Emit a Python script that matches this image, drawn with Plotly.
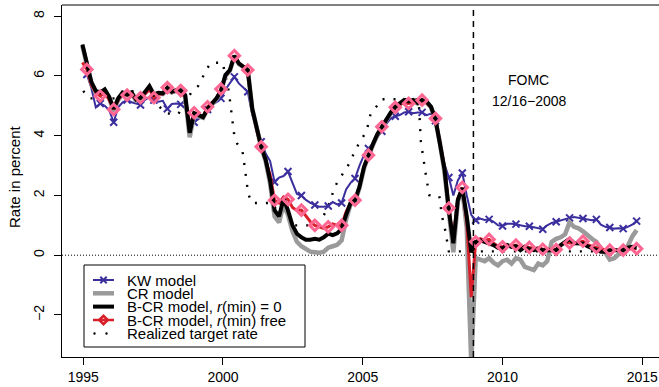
import numpy as np
import plotly.graph_objects as go

# ---------------- data ----------------
# model-implied rates on a regular grid (every 0.16 yr starting 1994.97)
kw_model = [6.2, 6.05, 5.6, 4.95, 5.08, 5.0, 4.85, 4.45, 4.95, 5.12,
            5.19, 5.12, 5.08, 5.03, 5.2, 5.3, 5.19, 5.14, 5.17, 4.9,
            5.06, 5.08, 5.05, 4.92, 4.35, 4.45, 4.58, 4.67, 4.88, 5.03,
            5.12, 5.25, 5.55, 5.78, 5.97, 5.75, 5.6, 5.47, 4.7, 4.25,
            3.8, 3.4, 3.15, 2.45, 2.6, 2.65, 2.8, 2.4, 2.05, 2.0,
            1.85, 1.75, 1.68, 1.62, 1.62, 1.65, 1.78, 1.7, 1.75, 2.2,
            2.42, 2.57, 3.0, 3.35, 3.57, 3.74, 3.95, 4.15, 4.4, 4.58,
            4.65, 4.69, 4.78, 4.8, 4.75, 4.78, 4.78, 4.69, 4.74, 4.5,
            3.8, 3.05, 2.6, 2.0, 2.5, 2.75, 2.0, 1.35, 1.17, 1.23,
            1.18, 1.2, 1.12, 1.0, 0.98, 1.05, 1.05, 1.04, 1.0, 0.97,
            0.97, 0.93, 0.9, 0.87, 1.0, 1.08, 1.12, 1.17, 1.22, 1.25,
            1.28, 1.25, 1.23, 1.18, 1.17, 1.2, 1.02, 0.95, 0.93, 0.89,
            0.9, 0.89, 0.95, 1.02, 1.14]

cr_model = [7.0, 6.3, 5.75, 5.45, 5.4, 5.5, 5.25, 4.82, 5.2, 5.4,
            5.35, 5.4, 5.18, 5.25, 5.4, 5.6, 5.35, 5.4, 5.4, 5.56,
            5.45, 5.5, 5.5, 5.3, 3.95, 4.7, 4.65, 4.6, 4.88, 5.05,
            5.22, 5.48, 6.0, 6.18, 6.65, 6.4, 6.3, 6.2, 4.9, 4.2,
            3.62, 3.15, 2.4, 1.3, 1.1, 1.7, 1.35, 0.8, 0.45, 0.3,
            0.2, 0.12, 0.1, 0.08, 0.12, 0.25, 0.3, 0.35, 0.5, 1.2,
            1.7, 1.8, 2.25, 2.9, 3.33, 3.7, 4.03, 4.28, 4.55, 4.75,
            4.95, 5.05, 5.15, 5.12, 5.18, 5.08, 5.18, 5.12, 4.95, 4.5,
            3.75, 2.8, 1.3, 0.1, 1.8, 2.2, 0.9, -3.6, -0.1, -0.17,
            -0.2, -0.1, -0.25, -0.34, -0.2, -0.15, -0.28, -0.1, -0.15, -0.39,
            -0.45, -0.5, -0.28, -0.34, -0.2, 0.45, 0.55, 0.6, 0.7, 1.1,
            0.95, 0.9, 0.8, 0.65, 0.55, 0.45, 0.22, 0.08, -0.15, -0.1,
            0.05, 0.2, 0.3, 0.62, 0.84]

bcr_zero = [7.05, 6.35, 5.8, 5.5, 5.45, 5.55, 5.3, 4.9, 5.25, 5.45,
            5.38, 5.45, 5.22, 5.27, 5.45, 5.66, 5.38, 5.44, 5.42, 5.6,
            5.47, 5.53, 5.52, 5.36, 4.1, 4.75, 4.69, 4.62, 4.9, 5.08,
            5.25, 5.5, 6.03, 6.2, 6.68, 6.42, 6.31, 6.2, 4.9, 4.2,
            3.63, 3.2, 2.5, 1.5, 1.3, 1.9, 1.5, 1.0, 0.72, 0.6,
            0.52, 0.52, 0.55, 0.52, 0.6, 0.72, 0.67, 0.73, 0.88, 1.35,
            1.75, 1.84, 2.3, 2.95, 3.35, 3.72, 4.05, 4.3, 4.58, 4.78,
            4.97, 5.08, 5.2, 5.15, 5.2, 5.1, 5.2, 5.15, 4.97, 4.55,
            3.8, 2.9, 1.5, 0.4, 1.85, 2.25, 1.3, 0.1, 0.45, 0.5,
            0.45, 0.4, 0.34, 0.25, 0.22, 0.34, 0.28, 0.3, 0.17, 0.28,
            0.2, 0.17, 0.22, 0.17, 0.17, 0.2, 0.17, 0.33, 0.45, 0.55,
            0.4, 0.39, 0.39, 0.3, 0.25, 0.17, 0.12, 0.12, 0.17, 0.17,
            0.17, 0.17, 0.25, 0.28, 0.26]

bcr_free = [6.45, 6.22, 5.7, 5.45, 5.33, 5.45, 5.2, 4.88, 5.2, 5.4,
            5.36, 5.4, 5.2, 5.27, 5.4, 5.55, 5.27, 5.4, 5.4, 5.61,
            5.45, 5.5, 5.51, 5.3, 4.3, 4.77, 4.7, 4.65, 4.97, 5.1,
            5.25, 5.56, 6.0, 6.2, 6.68, 6.42, 6.3, 6.2, 4.9, 4.2,
            3.63, 3.2, 2.7, 1.84, 1.75, 1.95, 1.87, 1.6, 1.5, 1.51,
            1.3, 1.12, 1.0, 0.95, 0.9, 0.95, 1.05, 1.0, 1.0, 1.45,
            1.75, 1.84, 2.3, 2.95, 3.35, 3.72, 4.05, 4.3, 4.55, 4.75,
            4.95, 5.05, 5.1, 5.08, 5.12, 5.1, 5.19, 5.1, 4.95, 4.58,
            3.8, 2.95, 1.58, 0.5, 1.9, 2.27, 1.1, -1.4, 0.45, 0.55,
            0.5, 0.53, 0.4, 0.3, 0.28, 0.35, 0.3, 0.34, 0.25, 0.3,
            0.26, 0.22, 0.25, 0.2, 0.2, 0.2, 0.19, 0.35, 0.45, 0.41,
            0.4, 0.42, 0.47, 0.35, 0.3, 0.26, 0.2, 0.18, 0.17, 0.18,
            0.17, 0.17, 0.2, 0.22, 0.22]

# realized target rate (break points)
target_year = [1995.0, 1995.2, 1996.3, 1996.6, 1997.05, 1997.7, 1997.95, 1998.4,
               1998.88, 1999.11, 1999.27, 1999.4, 1999.56, 1999.99, 2000.21,
               2000.31, 2000.4, 2000.51, 2000.7, 2000.76, 2000.85, 2000.9,
               2001.03, 2001.8, 2002.0, 2002.4, 2002.55, 2003.25, 2003.61,
               2003.89, 2003.94, 2004.12, 2004.33, 2004.52, 2004.76, 2004.96,
               2005.14, 2005.28, 2005.5, 2005.65, 2007.0, 2007.08, 2007.19,
               2007.26, 2007.38, 2007.74, 2007.79, 2007.84, 2007.92, 2007.98,
               2008.02, 2008.08, 2013.9]
target_rate = [5.5, 5.25, 5.25, 5.5, 5.45, 5.0, 4.75, 4.72,
               5.47, 5.66, 5.95, 6.2, 6.44, 6.44, 5.47,
               4.75, 4.04, 3.73, 3.46, 3.07, 2.42, 2.07,
               1.75, 1.75, 1.25, 1.25, 1.0, 1.0, 1.34,
               1.9, 2.18, 2.49, 2.79, 3.07, 3.57, 3.88,
               4.16, 4.72, 4.99, 5.22, 5.22, 3.8, 3.07,
               2.68, 2.01, 1.98, 1.62, 1.28, 1.0, 0.67,
               0.39, 0.13, 0.13]

fomc_date = 2008.96
x_ticks = [1995, 2000, 2005, 2010, 2015]
y_ticks = [-2, 0, 2, 4, 6, 8]

years = np.round(1994.97 + 0.15991 * np.arange(len(bcr_zero)), 4)
mk = slice(1, None, 3)   # symbols every third observation

# ---------------- style ----------------
FONT = "Liberation Sans, Arial, Helvetica, sans-serif"
BLUE = "#3b2f9e"
GRAY = "#9a9a9a"
RED = "#d9202a"
BLACK = "#000000"

W, H = 659, 387
ML, MR, MT, MB = 62, 0, 5, 30
PW, PH = W - ML - MR, H - MT - MB

fig = go.Figure()

fig.add_trace(go.Scatter(x=target_year, y=target_rate, mode="lines",
                         line=dict(color=BLACK, width=2.4, dash="2px,9px"),
                         hoverinfo="skip"))
fig.add_trace(go.Scatter(x=years, y=kw_model, mode="lines",
                         line=dict(color=BLUE, width=2), hoverinfo="skip"))
fig.add_trace(go.Scatter(x=years[mk], y=np.array(kw_model)[mk], mode="markers",
                         marker=dict(symbol="x-thin", size=7,
                                     line=dict(color=BLUE, width=2)),
                         hoverinfo="skip"))
fig.add_trace(go.Scatter(x=years, y=cr_model, mode="lines",
                         line=dict(color=GRAY, width=4.5), hoverinfo="skip"))
fig.add_trace(go.Scatter(x=years, y=bcr_free, mode="lines",
                         line=dict(color=RED, width=3), hoverinfo="skip"))
fig.add_trace(go.Scatter(x=years, y=bcr_zero, mode="lines",
                         line=dict(color=BLACK, width=4), hoverinfo="skip"))
fig.add_trace(go.Scatter(x=years[mk], y=np.array(bcr_free)[mk], mode="markers",
                         marker=dict(symbol="diamond-open", size=8,
                                     line=dict(color=RED, width=3)),
                         hoverinfo="skip"))

# ---------------- helpers for pixel-placed decorations ----------------
def px(xp):
    return (xp - ML) / PW


def py(yp):
    return (MT + PH - yp) / PH


shapes = []
annotations = []

# top border of the box
shapes.append(dict(type="line", xref="paper", yref="paper", x0=0, x1=1, y0=1, y1=1,
                   line=dict(color=BLACK, width=1)))
# zero line
shapes.append(dict(type="line", xref="paper", yref="y", x0=0, x1=1, y0=0, y1=0,
                   line=dict(color=BLACK, width=1, dash="1px,2px"), layer="below"))
# FOMC line
shapes.append(dict(type="line", xref="x", yref="paper", x0=fomc_date, x1=fomc_date,
                   y0=0, y1=1, line=dict(color=BLACK, width=1.5, dash="6px,5px")))

annotations.append(dict(x=2010.93, y=5.86, xref="x", yref="y", text="FOMC",
                        showarrow=False, font=dict(family=FONT, size=14, color=BLACK),
                        xanchor="center", yanchor="middle"))
annotations.append(dict(x=2010.98, y=5.16, xref="x", yref="y", text="12/16\u22122008",
                        showarrow=False, font=dict(family=FONT, size=14, color=BLACK),
                        xanchor="center", yanchor="middle"))

# y axis title
annotations.append(dict(x=px(14), y=py(177), xref="paper", yref="paper",
                        text="Rate in percent", textangle=-90, showarrow=False,
                        font=dict(family=FONT, size=15, color=BLACK),
                        xanchor="center", yanchor="middle"))

# ---------------- legend (drawn as a keyed box) ----------------
LX0, LX1, LY0, LY1 = 84, 305, 265, 347
shapes.append(dict(type="rect", xref="paper", yref="paper", x0=px(LX0), x1=px(LX1),
                   y0=py(LY1), y1=py(LY0), line=dict(color=BLACK, width=1),
                   fillcolor="white", layer="above"))
rows = [280, 293.3, 306.6, 320, 333.5]
labels = ["KW model", "CR model", "B-CR model, <i>r</i>(min) = 0",
          "B-CR model, <i>r</i>(min) free", "Realized target rate"]
key_x0, key_x1, key_c = 93, 114, 103.5
key_styles = [dict(color=BLUE, width=2), dict(color=GRAY, width=4.5),
              dict(color=BLACK, width=4), dict(color=RED, width=2.5)]
for r, st in zip(rows[:4], key_styles):
    shapes.append(dict(type="line", xref="paper", yref="paper", x0=px(key_x0),
                       x1=px(key_x1), y0=py(r), y1=py(r), line=st, layer="above"))
# x symbol
d = 3.2
for s in (1, -1):
    shapes.append(dict(type="line", xref="paper", yref="paper",
                       x0=px(key_c - d), x1=px(key_c + d),
                       y0=py(rows[0] - s * d), y1=py(rows[0] + s * d),
                       line=dict(color=BLUE, width=2), layer="above"))
# diamond symbol
dd = 4.2
cy = rows[3]
path = "M {} {} L {} {} L {} {} L {} {} Z".format(
    px(key_c - dd), py(cy), px(key_c), py(cy - dd), px(key_c + dd), py(cy),
    px(key_c), py(cy + dd))
shapes.append(dict(type="path", xref="paper", yref="paper", path=path,
                   line=dict(color=RED, width=2.6), fillcolor="rgba(0,0,0,0)",
                   layer="above"))
# dotted key
for cx in (94.5, 106.5):
    shapes.append(dict(type="circle", xref="paper", yref="paper",
                       x0=px(cx - 1.2), x1=px(cx + 1.2), y0=py(rows[4] + 1.2),
                       y1=py(rows[4] - 1.2), line=dict(width=0),
                       fillcolor=BLACK, layer="above"))
for r, lab in zip(rows, labels):
    annotations.append(dict(x=px(125), y=py(r), xref="paper", yref="paper", text=lab,
                            showarrow=False, xanchor="left", yanchor="middle",
                            font=dict(family=FONT, size=15, color=BLACK)))

fig.update_layout(
    width=W, height=H,
    margin=dict(l=ML, r=MR, t=MT, b=MB, pad=0, autoexpand=False),
    paper_bgcolor="white", plot_bgcolor="white",
    showlegend=False,
    font=dict(family=FONT, size=14, color=BLACK),
    shapes=shapes, annotations=annotations,
    xaxis=dict(range=[1994.24, 2015.6], tickvals=x_ticks, ticktext=[str(v) for v in x_ticks],
               automargin=False,
               showgrid=False, zeroline=False, showline=True, linecolor=BLACK,
               linewidth=1, ticks="outside", ticklen=7, tickwidth=1, tickcolor=BLACK,
               tickfont=dict(family=FONT, size=14, color=BLACK)),
    yaxis=dict(range=[-3.407, 8.375], tickvals=y_ticks, automargin=False,
               showgrid=False, zeroline=False, showline=True, linecolor=BLACK,
               linewidth=1, ticks="outside", ticklen=7, tickwidth=1, tickcolor=BLACK,
               tickangle=-90, tickfont=dict(family=FONT, size=14, color=BLACK),
               ticklabelstandoff=4),
)

fig.write_html("out.html", config={"displayModeBar": False},
               post_script="document.body.style.margin='0px';"
                           "document.body.style.overflow='hidden';")
